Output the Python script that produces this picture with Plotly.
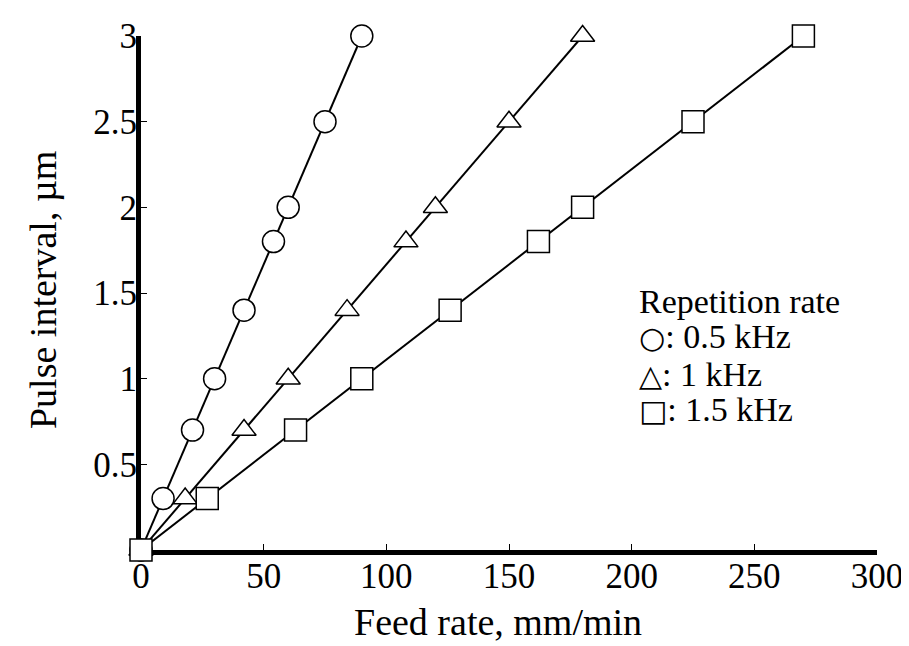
import plotly.graph_objects as go

# Data
feed_05khz = [0, 9, 21, 30, 42, 54, 60, 75, 90]
pulse_05khz = [0, 0.3, 0.7, 1.0, 1.4, 1.8, 2.0, 2.5, 3.0]

feed_1khz = [0, 18, 42, 60, 84, 108, 120, 150, 180]
pulse_1khz = [0, 0.3, 0.7, 1.0, 1.4, 1.8, 2.0, 2.5, 3.0]

feed_15khz = [0, 27, 63, 90, 126, 162, 180, 225, 270]
pulse_15khz = [0, 0.3, 0.7, 1.0, 1.4, 1.8, 2.0, 2.5, 3.0]

x_ticks = [0, 50, 100, 150, 200, 250, 300]
y_ticks = [0.5, 1, 1.5, 2, 2.5, 3]
y_tick_text = ["0.5", "1", "1.5", "2", "2.5", "3"]

legend_title = "Repetition rate"
legend_items = [("○", ": 0.5 kHz"), ("△", ": 1 kHz"), ("□", ": 1.5 kHz")]

SERIF = "Liberation Serif, Times New Roman, serif"

fig = go.Figure()
series = [
    (feed_05khz, pulse_05khz, "circle", 22),
    (feed_1khz, pulse_1khz, "triangle-up", 21),
    (feed_15khz, pulse_15khz, "square", 22),
]
for xs, ys, sym, sz in series:
    fig.add_trace(go.Scatter(
        x=xs, y=ys, mode="lines+markers",
        line=dict(color="black", width=2),
        marker=dict(symbol=sym, size=sz, color="white",
                    line=dict(color="black", width=1.5)),
        cliponaxis=False, showlegend=False,
    ))

axis_common = dict(
    showgrid=False, zeroline=False, showline=True,
    linecolor="black", linewidth=5,
    ticks="inside", ticklen=6, tickwidth=1, tickcolor="black",
    tickfont=dict(family=SERIF, size=35, color="black"),
    layer="below traces", automargin=False,
)

fig.update_xaxes(range=[0, 300], tickvals=x_ticks,
                 ticktext=[str(v) for v in x_ticks], ticklabelstandoff=-9,
                 **axis_common)
fig.update_yaxes(range=[0, 3], tickvals=y_ticks, ticktext=y_tick_text,
                 ticklabelstandoff=-8, **axis_common)

annotations = [
    dict(text="Feed rate, mm/min", x=0.485, y=-0.140, xref="paper", yref="paper",
         xanchor="center", yanchor="middle", showarrow=False,
         font=dict(family=SERIF, size=38, color="black")),
    dict(text="Pulse interval, µm", x=-0.133, y=0.506, xref="paper", yref="paper",
         xanchor="center", yanchor="middle", showarrow=False, textangle=-90,
         font=dict(family=SERIF, size=38, color="black")),
    dict(text=legend_title, x=0.674, y=0.484, xref="paper", yref="paper",
         xanchor="left", yanchor="middle", showarrow=False,
         font=dict(family=SERIF, size=34, color="black")),
]
legend_y = [0.416, 0.342, 0.274]
for (sym, label), yy in zip(legend_items, legend_y):
    annotations.append(dict(
        text=f"<span style='font-family:DejaVu Sans;font-size:30px'>{sym}</span>{label}",
        x=0.674, y=yy, xref="paper", yref="paper",
        xanchor="left", yanchor="middle", showarrow=False,
        font=dict(family=SERIF, size=34, color="black")))

# the page adds an 8px body margin, so the figure is drawn 8px smaller
fig.update_layout(
    width=901, height=638,
    margin=dict(l=133, r=32, t=28, b=96, autoexpand=False),
    plot_bgcolor="white", paper_bgcolor="white",
    annotations=annotations,
    showlegend=False,
)

fig.write_html("out.html")
